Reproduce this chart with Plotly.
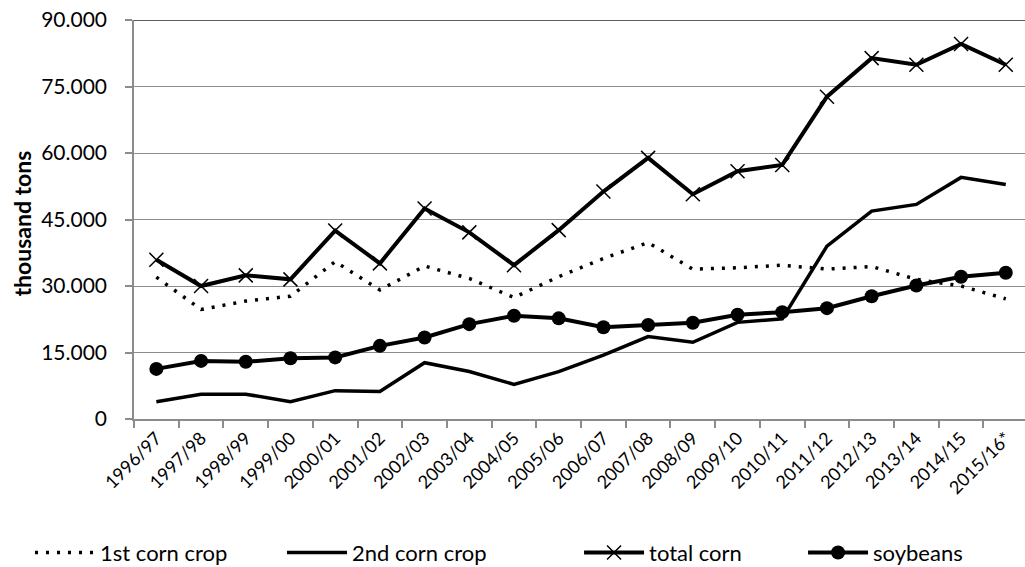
import plotly.graph_objects as go

# Marketing years (thousand tons per crop)
seasons = ["1996/97", "1997/98", "1998/99", "1999/00", "2000/01", "2001/02",
           "2002/03", "2003/04", "2004/05", "2005/06", "2006/07", "2007/08",
           "2008/09", "2009/10", "2010/11", "2011/12", "2012/13", "2013/14",
           "2014/15", "2015/16*"]

corn_1st = [32000, 24700, 26600, 27700, 35500, 29100, 34500, 31700, 27400, 32100,
            36200, 39800, 33800, 34100, 34700, 33800, 34400, 31500, 30000, 27100]

corn_2nd = [3900, 5600, 5600, 3900, 6400, 6200, 12700, 10700, 7800, 10700,
            14400, 18600, 17300, 21800, 22600, 39000, 46900, 48400, 54500, 52900]

corn_total = [35900, 30000, 32400, 31500, 42500, 35100, 47500, 42100, 34700, 42600,
              51300, 58900, 50700, 55900, 57300, 72700, 81400, 79900, 84600, 79900]

soybeans = [11300, 13100, 12900, 13700, 13900, 16500, 18400, 21400, 23300, 22700,
            20700, 21200, 21700, 23500, 24100, 25000, 27700, 30100, 32100, 33000]

y_ticks = [0, 15000, 30000, 45000, 60000, 75000, 90000]

FONT = "Lato, 'Open Sans', sans-serif"
GRID = "#8c8c8c"

fig = go.Figure()

fig.add_trace(go.Scatter(
    x=seasons, y=corn_1st, name="1st corn crop", mode="lines", legend="legend",
    line=dict(color="black", width=3.5, dash="3px,8px"),
))
fig.add_trace(go.Scatter(
    x=seasons, y=corn_2nd, name="2nd corn crop", mode="lines", legend="legend2",
    line=dict(color="black", width=3.5),
))
fig.add_trace(go.Scatter(
    x=seasons, y=corn_total, name="total corn", mode="lines+markers", legend="legend3",
    line=dict(color="black", width=4),
    marker=dict(symbol="x-thin", size=14, color="black",
                line=dict(color="black", width=1.5)),
))
fig.add_trace(go.Scatter(
    x=seasons, y=soybeans, name="soybeans", mode="lines+markers", legend="legend4",
    line=dict(color="black", width=4),
    marker=dict(symbol="circle", size=14, color="black"),
))

# darker frame line along the top of the plot area
fig.add_shape(type="line", xref="paper", yref="y", x0=0, x1=1, y0=90000, y1=90000,
              line=dict(color="#262626", width=1.5), layer="above")

# vertical y-axis title
fig.add_annotation(text="<b>thousand tons</b>", xref="paper", yref="paper",
                   x=-0.1257, y=0.49, xanchor="center", yanchor="middle",
                   textangle=-90, showarrow=False,
                   font=dict(size=23, family=FONT, color="black"))


def legend_box(x):
    # one single-entry legend per series, spread along the bottom row
    return dict(orientation="h", x=x, xanchor="left", y=-0.335, yanchor="middle",
                font=dict(size=22, family=FONT), itemwidth=60,
                bgcolor="rgba(0,0,0,0)")


fig.update_layout(
    width=1025, height=567,
    margin=dict(l=134, r=0, t=20, b=148, autoexpand=False),
    paper_bgcolor="white", plot_bgcolor="white",
    separators=",.",
    font=dict(family=FONT, color="black", size=20),
    showlegend=True,
    legend=legend_box(-0.1167),
    legend2=legend_box(0.1661),
    legend3=legend_box(0.4995),
    legend4=legend_box(0.7509),
    xaxis=dict(
        type="category", range=[-0.5, 19.43], automargin=False,
        showgrid=False, showline=True, linecolor=GRID, linewidth=1.5,
        ticks="outside", tickson="boundaries", ticklen=7, tickcolor=GRID, tickwidth=1.5,
        tickangle=-45, tickfont=dict(size=18, family=FONT, color="black"),
    ),
    yaxis=dict(
        range=[0, 90000], tickvals=y_ticks, tickformat=",.0f", automargin=False,
        showgrid=True, gridcolor=GRID, gridwidth=1.2,
        showline=True, linecolor=GRID, linewidth=1.5,
        ticks="outside", ticklen=7, tickcolor=GRID, tickwidth=1.5,
        ticklabelstandoff=14,
        tickfont=dict(size=21, family=FONT),
        zeroline=False,
    ),
)

fig.write_html("out.html")
